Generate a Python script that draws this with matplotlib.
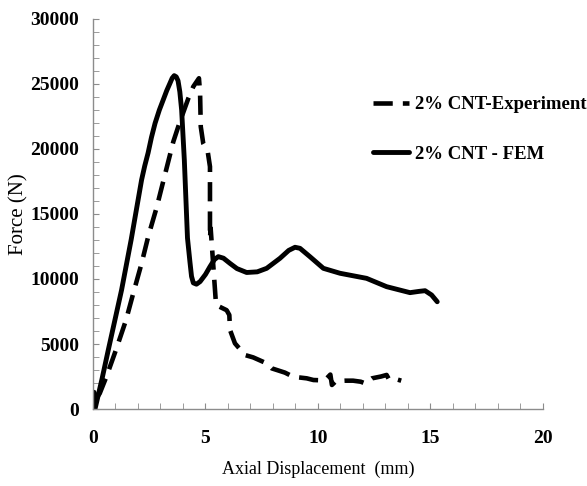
import matplotlib
matplotlib.use("Agg")
import matplotlib.pyplot as plt
from matplotlib.ticker import MultipleLocator

plt.rcParams['font.family'] = ['Liberation Serif', 'DejaVu Serif']

# 2% CNT - FEM (solid)
fem_x = [0.0, 0.09, 0.4, 0.68, 1.27, 1.7, 2.16, 2.3, 2.45, 2.6, 2.76, 2.95, 3.12, 3.28, 3.42,
         3.52, 3.61, 3.7, 3.78, 3.86, 3.94, 4.06, 4.2, 4.31, 4.38, 4.46, 4.6, 4.76, 5.0, 5.2,
         5.4, 5.57, 5.8, 6.09, 6.4, 6.83, 7.3, 7.72, 8.31, 8.7, 8.98, 9.2, 9.64, 10.24, 10.98,
         12.16, 13.05, 14.09, 14.5, 14.76, 15.05, 15.3]
fem_y = [0, 0, 2300, 4540, 9150, 13050, 17620, 18700, 19700, 20900, 21980, 23000, 23770, 24500, 25050,
         25450, 25640, 25550, 25250, 24400, 23000, 19150, 13150, 11300, 10200, 9700, 9600, 9800, 10350, 10950,
         11500, 11720, 11600, 11200, 10800, 10500, 10550, 10820, 11590, 12200, 12440, 12360, 11720, 10820, 10440,
         10050, 9410, 8950, 9050, 9100, 8770, 8250]

# 2% CNT-Experiment (dashed)
exp_x = [0.0, 0.05, 0.1, 0.3, 0.6, 1.02, 1.47, 1.79, 2.16, 2.46, 2.83,
         3.13, 3.57, 3.84, 4.24, 4.46, 4.71, 4.76, 4.79, 4.9, 5.1, 5.2, 5.2, 5.23, 5.35, 5.47,
         5.94, 6.06, 6.09, 6.31, 6.76, 7.12, 7.72, 7.94, 8.53, 8.9, 9.5, 9.8, 10.3,
         10.55, 10.62, 10.8, 11.2, 11.56, 11.9, 12.1, 12.4, 12.8, 13.05, 13.15, 13.35, 13.7]
exp_y = [0, 1300, 700, 1200, 2500, 4540, 6850, 8900, 11200, 13300, 15500,
         17560, 20560, 21980, 23900, 24800, 25440, 24280, 21720, 20430, 19790, 18640, 13150, 13900, 10950, 8000,
         7600, 7230, 6080, 5050, 4150, 3970, 3510, 3130, 2800, 2480, 2360, 2230, 2200,
         2650, 1850, 2150, 2180, 2180, 2100, 1970, 2360, 2500, 2620, 2300, 2360, 2180]

fig = plt.figure(figsize=(5.87, 4.86), dpi=100)
ax = fig.add_axes([0.1584, 0.1584, 0.7666, 0.8026])

ax.plot(exp_x, exp_y, color='black', lw=3.3, ls=(0, (4.2, 2.2)), label='2% CNT-Experiment')
ax.plot(fem_x, fem_y, color='black', lw=3.5, ls='-', label='2% CNT - FEM',
        solid_joinstyle='round', solid_capstyle='round')

ax.set_xlim(0, 20)
ax.set_ylim(0, 30000)
ax.xaxis.set_major_locator(MultipleLocator(5))
ax.xaxis.set_minor_locator(MultipleLocator(1))
ax.yaxis.set_major_locator(MultipleLocator(5000))
ax.yaxis.set_minor_locator(MultipleLocator(1000))

for s in ['top', 'right']:
    ax.spines[s].set_visible(False)
for s in ['left', 'bottom']:
    ax.spines[s].set_color('#8c8c8c')
    ax.spines[s].set_linewidth(1)

ax.tick_params(which='both', direction='in', color='#8c8c8c')
ax.tick_params(which='major', length=4.5)
ax.tick_params(which='minor', length=4)
ax.tick_params(axis='x', which='major', pad=15)
ax.tick_params(axis='y', which='major', pad=10)
for lab in ax.get_xticklabels() + ax.get_yticklabels():
    lab.set_fontweight('bold')
    lab.set_fontsize(14)

ax.set_xlabel('Axial Displacement  (mm)', fontsize=13, labelpad=10)
ax.set_ylabel('Force (N)', fontsize=15, labelpad=1)

leg = ax.legend(loc='center left', bbox_to_anchor=(0.622, 0.7167), frameon=False,
                prop={'weight': 'bold', 'size': 13.5}, handlelength=1.9,
                handletextpad=0.37, labelspacing=1.71, borderpad=0, borderaxespad=0)

fig.savefig('out.png', dpi=100)
